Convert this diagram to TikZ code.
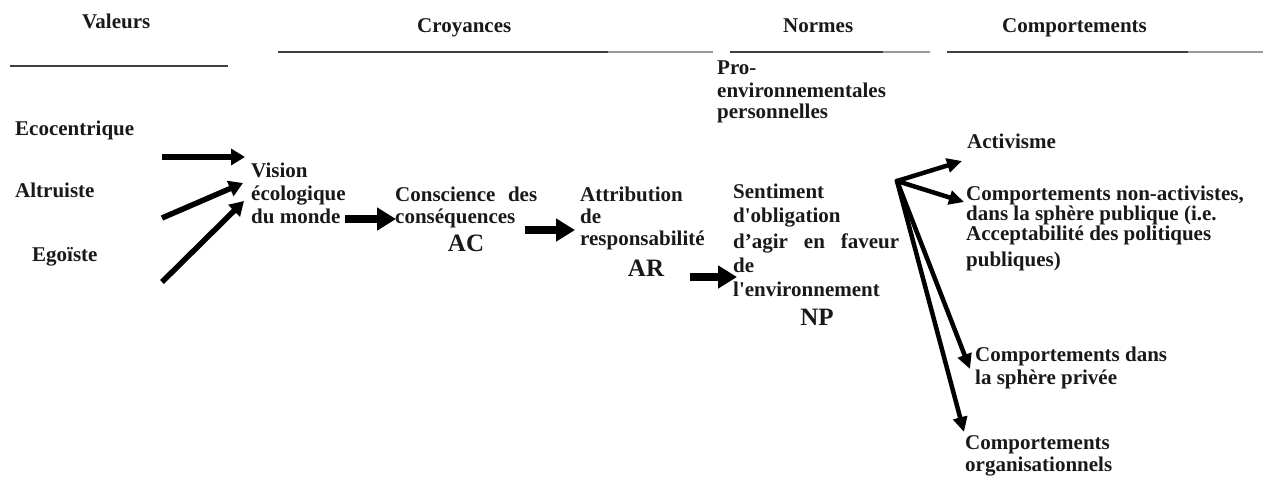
\documentclass[tikz,border=0pt]{standalone}
\usepackage{fontspec}
\setmainfont{Liberation Serif}
\usetikzlibrary{arrows.meta}
\begin{document}
\begin{tikzpicture}[x=1pt,y=-1pt,
  txt/.style={anchor=base west, inner sep=0pt, font=\bfseries\fontsize{21}{24}\selectfont, text=black!90},
  big/.style={anchor=base, inner sep=0pt, font=\bfseries\fontsize{25}{28}\selectfont, text=black!90},
  ruledark/.style={line width=2pt, draw=black!75},
  rulelight/.style={line width=2pt, draw=black!40},
  thickarrow/.style={line width=7.5pt, -{Triangle[length=19pt,width=22pt]}},
  valarrow/.style={line width=5.5pt, -{Triangle[length=14pt,width=16pt]}},
  fanarrow/.style={line width=4.5pt, line cap=round, -{Triangle[length=15pt,width=14pt]}},
]
\useasboundingbox (0,0) rectangle (1263,477);

% headers
\node[txt] (hval) at (82,28) {Valeurs};
\node[txt] (hcro) at (417,32) {Croyances};
\node[txt] (hnor) at (783,32) {Normes};
\node[txt] (hcom) at (1002,32) {Comportements};
\draw[ruledark] (10,66) -- (228,66);
\draw[ruledark] (278,52) -- (608,52);
\draw[rulelight] (608,52) -- (713,52);
\draw[ruledark] (730,52) -- (883,52);
\draw[rulelight] (883,52) -- (930,52);
\draw[ruledark] (947,52) -- (1188,52);
\draw[rulelight] (1188,52) -- (1263,52);

% norms subtitle
\node[txt] (pro1) at (717,74) {Pro-};
\node[txt] (pro2) at (717,97) {environnementales};
\node[txt] (pro3) at (717,118) {personnelles};

% values
\node[txt] (eco) at (15,135) {Ecocentrique};
\node[txt] (alt) at (15,197) {Altruiste};
\node[txt] (ego) at (32,261) {Egoïste};

% vision
\node[txt] (vis1) at (251,177) {Vision};
\node[txt] (vis2) at (251,200) {écologique};
\node[txt] (vis3) at (251,223) {du monde};

% conscience
\node[txt] (ac1) at (395,201) {\makebox[142pt][s]{Conscience des}};
\node[txt] (ac2) at (395,223) {conséquences};
\node[big] (ac) at (466,251) {AC};

% attribution
\node[txt] (ar1) at (580,201) {Attribution};
\node[txt] (ar2) at (580,223) {de};
\node[txt] (ar3) at (580,245) {responsabilité};
\node[big] (ar) at (646,276) {AR};

% sentiment
\node[txt] (np1) at (733,198) {Sentiment};
\node[txt] (np2) at (733,222) {d\textquotesingle obligation};
\node[txt] (np3) at (733,248) {\makebox[166pt][s]{d’agir en faveur}};
\node[txt] (np4) at (733,272) {de};
\node[txt] (np5) at (733,296) {l\textquotesingle environnement};
\node[big] (np) at (817,325) {NP};

% behaviours
\node[txt] (act) at (967,148) {Activisme};
\node[txt] (pub1) at (966,200) {Comportements non-activistes,};
\node[txt] (pub2) at (966,220) {dans la sphère publique (i.e.};
\node[txt] (pub3) at (966,240) {Acceptabilité des politiques};
\node[txt] (pub4) at (966,266) {publiques)};
\node[txt] (pri1) at (975,361) {Comportements dans};
\node[txt] (pri2) at (975,384) {la sphère privée};
\node[txt] (org1) at (965,449) {Comportements};
\node[txt] (org2) at (965,471) {organisationnels};

% arrow end points
\coordinate (eco-s) at (162,157);
\coordinate (eco-t) at (245,157);
\coordinate (alt-s) at (162,218);
\coordinate (alt-t) at (243,183);
\coordinate (ego-s) at (162,282);
\coordinate (ego-t) at (244,201);
\coordinate (vis-s) at (345,219);
\coordinate (vis-t) at (396,219);
\coordinate (ac-s) at (525,230);
\coordinate (ac-t) at (575,230);
\coordinate (ar-s) at (690,277);
\coordinate (ar-t) at (737,277);
\coordinate (fan) at (897,181);
\coordinate (act-t) at (962,161);
\coordinate (pub-t) at (964,202);
\coordinate (pri-t) at (970,369);
\coordinate (org-t) at (964,432);

\draw[valarrow] (eco-s) -- (eco-t);
\draw[valarrow] (alt-s) -- (alt-t);
\draw[valarrow] (ego-s) -- (ego-t);
\draw[thickarrow] (vis-s) -- (vis-t);
\draw[thickarrow] (ac-s) -- (ac-t);
\draw[thickarrow] (ar-s) -- (ar-t);
\draw[fanarrow] (fan) -- (act-t);
\draw[fanarrow] (fan) -- (pub-t);
\draw[fanarrow] (fan) -- (pri-t);
\draw[fanarrow] (fan) -- (org-t);
\end{tikzpicture}
\end{document}
